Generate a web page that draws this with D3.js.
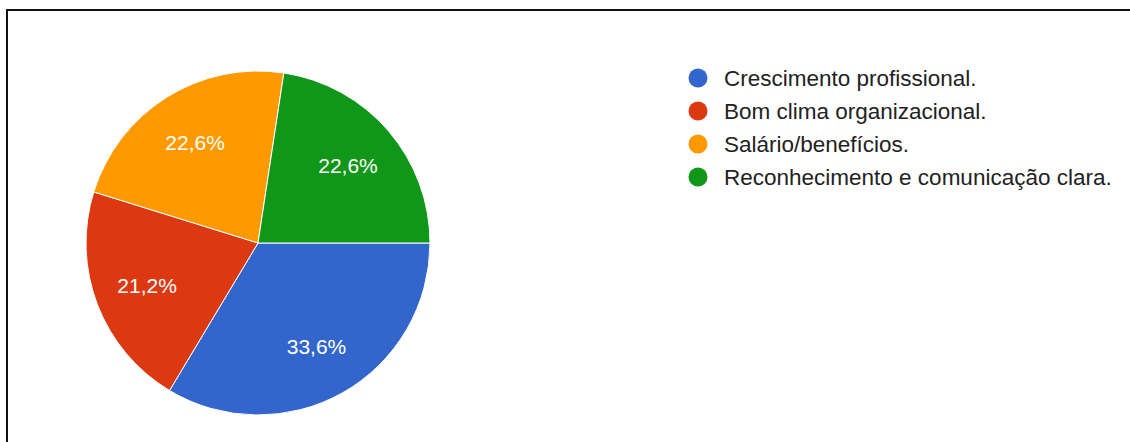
<!DOCTYPE html>
<html>
<head>
<meta charset="utf-8">
<script src="https://cdn.jsdelivr.net/npm/d3@7"></script>
<style>
  html, body { margin: 0; padding: 0; background: #fff; }
  svg { display: block; font-family: "Liberation Sans", Arial, sans-serif; }
</style>
</head>
<body>
<div id="chart"></div>
<script>
// data
var categories = ["Crescimento profissional.", "Bom clima organizacional.", "Salário/benefícios.", "Reconhecimento e comunicação clara."];
var values = [33.6, 21.2, 22.6, 22.6];
var labels = ["33,6%", "21,2%", "22,6%", "22,6%"];
var colors = ["#3366cc", "#dc3912", "#ff9900", "#109618"];

var width = 1130, height = 442;

var svg = d3.select("#chart").append("svg")
    .attr("width", width)
    .attr("height", height);

// frame (only top and left edge are visible in the crop)
svg.append("path")
    .attr("d", "M7," + height + " L7,10 L" + width + ",10")
    .attr("fill", "none")
    .attr("stroke", "#111")
    .attr("stroke-width", 2);

var cx = 258, cy = 243, r = 172;

// pie starts at 3 o'clock and runs clockwise
var pie = d3.pie()
    .sort(null)
    .startAngle(Math.PI / 2)
    .endAngle(Math.PI / 2 + 2 * Math.PI)
    .value(function(d) { return d; });

var arcs = pie(values);

var arc = d3.arc().innerRadius(0).outerRadius(r);
var labelArc = d3.arc().innerRadius(r * 0.69).outerRadius(r * 0.69);

var g = svg.append("g").attr("transform", "translate(" + cx + "," + cy + ")");

g.selectAll("path.slice")
    .data(arcs)
  .enter().append("path")
    .attr("class", "slice")
    .attr("d", arc)
    .attr("fill", function(d, i) { return colors[i]; })
    .attr("stroke", "#fff")
    .attr("stroke-width", 1);

g.selectAll("text.pct")
    .data(arcs)
  .enter().append("text")
    .attr("class", "pct")
    .attr("transform", function(d) { return "translate(" + labelArc.centroid(d) + ")"; })
    .attr("text-anchor", "middle")
    .attr("dy", "0.35em")
    .attr("fill", "#fff")
    .style("font-size", "21px")
    .text(function(d, i) { return labels[i]; });

// legend
var legend = svg.append("g").attr("transform", "translate(698,78)");
var rowH = 33;

var item = legend.selectAll("g.item")
    .data(categories)
  .enter().append("g")
    .attr("class", "item")
    .attr("transform", function(d, i) { return "translate(0," + (i * rowH) + ")"; });

item.append("circle")
    .attr("r", 9.5)
    .attr("fill", function(d, i) { return colors[i]; });

item.append("text")
    .attr("x", 26)
    .attr("dy", "0.35em")
    .attr("fill", "#222")
    .style("font-size", "22.5px")
    .text(function(d) { return d; });
</script>
</body>
</html>
